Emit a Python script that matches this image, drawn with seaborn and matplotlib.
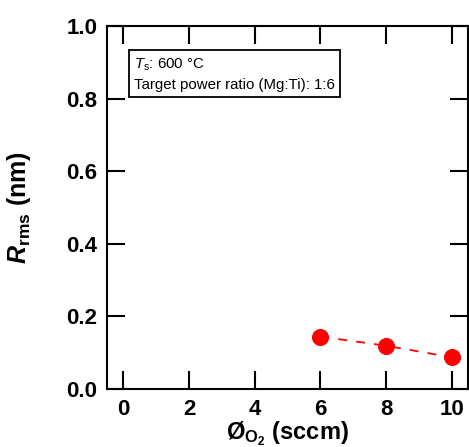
import matplotlib
matplotlib.use("Agg")
import matplotlib.pyplot as plt
import seaborn as sns
import pandas as pd

# data
o2_flow = [6, 8, 10]
rms = [0.144, 0.119, 0.087]
x_ticks = [0, 2, 4, 6, 8, 10]
y_ticks = [0.0, 0.2, 0.4, 0.6, 0.8, 1.0]

df = pd.DataFrame({"flow": o2_flow, "rms": rms})

sns.set_style("white")
plt.rcParams['font.family'] = ['Liberation Sans', 'DejaVu Sans']
plt.rcParams['text.color'] = 'black'
plt.rcParams['axes.labelcolor'] = 'black'
plt.rcParams['mathtext.fontset'] = 'custom'
plt.rcParams['mathtext.rm'] = 'Liberation Sans'
plt.rcParams['mathtext.it'] = 'Liberation Sans:italic'
plt.rcParams['mathtext.bf'] = 'Liberation Sans:bold'
plt.rcParams['mathtext.bfit'] = 'Liberation Sans:italic:bold'

fig = plt.figure(figsize=(4.69, 4.47), dpi=100)
ax = fig.add_axes([0.228, 0.130, 0.770, 0.812])

sns.lineplot(data=df, x="flow", y="rms", ax=ax, color="red", marker="o",
             markersize=11.5, markeredgecolor="red", linestyle=(0, (5, 5)),
             linewidth=1.3)

ax.set_xlim(-0.5, 10.5)
ax.set_ylim(0, 1.0)
ax.set_xticks(x_ticks)
ax.set_yticks(y_ticks)
ax.set_xticklabels([str(t) for t in x_ticks], fontsize=16, fontweight='bold')
ax.set_yticklabels([f"{t:.1f}" for t in y_ticks], fontsize=16, fontweight='bold')
ax.tick_params(direction='in', length=13, width=1.5, top=True, right=True,
               bottom=True, left=True, pad=7, colors='black')

for s in ax.spines.values():
    s.set_linewidth(1.5)
    s.set_color('black')

ax.set_xlabel(r"Ø$_{\mathbf{O_2}}$ (sccm)", fontsize=17, fontweight='bold', labelpad=0)
ax.set_ylabel(r"$\mathbfit{R}_{\mathbf{rms}}$ (nm)", fontsize=18, fontweight='bold', labelpad=24)

ax.text(0.075, 0.915, "$\\mathit{T}_{\\mathrm{s}}$: 600 °C\nTarget power ratio (Mg:Ti): 1:6",
        transform=ax.transAxes, fontsize=10.8, va='top', ha='left', linespacing=1.4,
        bbox=dict(boxstyle='square,pad=0.35', facecolor='white', edgecolor='black', linewidth=1.3))

fig.savefig("out.png", dpi=100)
